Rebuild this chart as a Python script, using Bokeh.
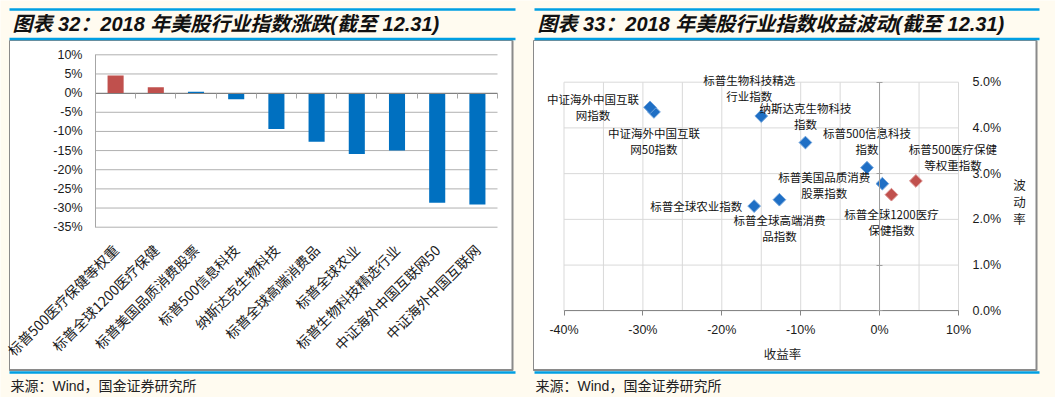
import math
from bokeh.plotting import figure
from bokeh.models import Range1d, LinearAxis, FixedTicker, PrintfTickFormatter, ColumnDataSource, Grid
from bokeh.core.properties import value
from bokeh.embed import file_html
from bokeh.resources import INLINE

# ---------------- data ----------------
BAR_CATEGORIES = ["标普500医疗保健等权重", "标普全球1200医疗保健", "标普美国品质消费股票",
                  "标普500信息科技", "纳斯达克生物科技", "标普全球高端消费品", "标普全球农业",
                  "标普生物科技精选行业", "中证海外中国互联网50", "中证海外中国互联网"]
RETURNS = [4.6, 1.5, 0.35, -1.6, -9.4, -12.7, -15.9, -15.0, -28.6, -29.1]   # % (2018)
VOLATILITY = [2.84, 2.54, 2.78, 3.13, 3.68, 2.43, 2.29, 4.26, 4.35, 4.45]   # %
SCATTER_LABELS = ["标普500医疗保健\n等权重指数", "标普全球1200医疗\n保健指数", "标普美国品质消费\n股票指数",
                  "标普500信息科技\n指数", "纳斯达克生物科技\n指数", "标普全球高端消费\n品指数",
                  "标普全球农业指数", "标普生物科技精选\n行业指数", "中证海外中国互联\n网50指数",
                  "中证海外中国互联\n网指数"]
BAR_Y_TICKS = [10, 5, 0, -5, -10, -15, -20, -25, -30, -35]
SCATTER_X_TICKS = [-40, -30, -20, -10, 0, 10]
SCATTER_X_GRID = [-40, -35, -30, -25, -20, -15, -10, -5, 0, 5, 10]
SCATTER_Y_TICKS = [0, 1, 2, 3, 4, 5]
TITLE_LEFT = "图表 32：2018 年美股行业指数涨跌(截至 12.31)"
TITLE_RIGHT = "图表 33：2018 年美股行业指数收益波动(截至 12.31)"
SOURCE = "来源：Wind，国金证券研究所"
X_TITLE = "收益率"
Y_TITLE = "波\n动\n率"

# ---------------- styles ----------------
CREAM = "#FFFBF0"
BLUE_LINE = "#009FE3"
RED = "#C0504D"
BLUE = "#0070C0"
DIAMOND_BLUE = "#1F6FC5"
BOX_LINE = "#8a8a8a"
SANS = "Liberation Sans, Noto Sans CJK SC"
CJK = "Noto Sans CJK SC"
# label offsets (screen px) for scatter labels
LABEL_DX = [37, 0, -58, 0, 0, 0, -58, -12, 0, -57]
LABEL_DY = [-24, 27, 1, -27, -27, 28, 0, -28, 29, 0]

W, H = 1055, 397
PX0, PX1, PY0, PY1 = 0, W, 0, H


def xr(p_a, v_a, p_b, v_b):
    k = (v_b - v_a) / (p_b - p_a)
    return Range1d(start=v_a + (PX0 - p_a) * k, end=v_a + (PX1 - p_a) * k)


def yr(p_a, v_a, p_b, v_b):
    k = (v_b - v_a) / (p_b - p_a)
    return Range1d(start=v_a + (PY1 - p_a) * k, end=v_a + (PY0 - p_a) * k)


p = figure(width=W, height=H, x_range=Range1d(PX0, PX1), y_range=Range1d(PY1, PY0),
           output_backend="svg", toolbar_location=None, x_axis_location=None, y_axis_location=None,
           min_border=0, background_fill_color=CREAM, border_fill_color=CREAM, outline_line_color=None)
for r in list(p.center):
    if isinstance(r, Grid):
        r.visible = False

n = len(BAR_CATEGORIES)
p.extra_x_ranges = {"bx": xr(95, -0.5, 497, n - 0.5), "sx": xr(563.5, -40, 958, 10)}
p.extra_y_ranges = {"by": yr(54.3, 10, 226.7, -35), "sy": yr(310.3, 0, 81.7, 5)}

# ---------------- decorations (page pixels) ----------------
p.quad(left=[9, 533], right=[512, 1036], top=[40, 40], bottom=[370, 370],
       fill_color="white", line_color=BOX_LINE, line_width=1)
p.segment(x0=[512, 1036, 9, 533], x1=[512, 1036, 512, 1036], y0=[40, 40, 369.5, 369.5],
          y1=[370, 370, 369.5, 369.5], line_color=BOX_LINE, line_width=2)
p.segment(x0=[9, 9, 9, 534, 534, 534], x1=[515, 515, 515, 1039, 1039, 1039],
          y0=[9, 38.5, 372, 9, 38.5, 372], y1=[9, 38.5, 372, 9, 38.5, 372],
          line_color=BLUE_LINE, line_width=2.5)
p.text(x=[12, 537], y=[23, 23], text=[TITLE_LEFT, TITLE_RIGHT], text_font=value(SANS),
       text_font_size="20px", text_font_style="bold italic", text_color="#111111",
       text_baseline="middle", text_align="left")
p.text(x=[10, 535], y=[385, 385], text=[SOURCE, SOURCE], text_font=value(SANS),
       text_font_size="14px", text_color="#222222", text_baseline="middle", text_align="left")
p.text(x=[782], y=[353], text=[X_TITLE], text_font=value(CJK), text_font_size="12.5px",
       text_color="#222222", text_baseline="middle", text_align="center")
p.text(x=[1019], y=[201], text=[Y_TITLE], text_font=value(CJK), text_font_size="12.5px",
       text_color="#222222", text_baseline="middle", text_align="center", text_line_height=0.9)

# ---------------- bar chart ----------------
idx = list(range(n))
p.segment(x0=-0.5, x1=n - 0.5, y0=BAR_Y_TICKS, y1=BAR_Y_TICKS, x_range_name="bx", y_range_name="by",
          line_color="#b0b0b0", line_width=1)
bar_colors = [RED if "医疗" in c else BLUE for c in BAR_CATEGORIES]
p.vbar(x=idx, top=RETURNS, bottom=0, width=0.4, fill_color=bar_colors, line_color=None,
       x_range_name="bx", y_range_name="by")

ay = LinearAxis(x_range_name="bx", y_range_name="by", fixed_location=-0.5,
                bounds=(min(BAR_Y_TICKS), max(BAR_Y_TICKS)), ticker=FixedTicker(ticks=BAR_Y_TICKS),
                formatter=PrintfTickFormatter(format="%d%%"), major_tick_in=0, major_tick_out=0,
                minor_tick_line_color=None, axis_line_color="#a6a6a6", major_label_standoff=13,
                major_label_text_font=SANS, major_label_text_font_size="12.5px",
                major_label_text_color="#1a1a1a")
p.add_layout(ay, "left")

bound_ticks = [i - 0.5 for i in range(n + 1)]
ax0 = LinearAxis(x_range_name="bx", y_range_name="by", fixed_location=0, bounds=(-0.5, n - 0.5),
                 ticker=FixedTicker(ticks=bound_ticks), major_tick_in=0, major_tick_out=5,
                 minor_tick_line_color=None, axis_line_color="#808080", major_tick_line_color="#a6a6a6",
                 major_label_overrides={t: "" for t in bound_ticks})
p.add_layout(ax0, "below")

axc = LinearAxis(x_range_name="bx", y_range_name="by", fixed_location=-35, bounds=(-0.5, n - 0.5),
                 ticker=FixedTicker(ticks=idx), major_label_overrides={i: c for i, c in enumerate(BAR_CATEGORIES)},
                 major_label_orientation=math.pi / 4, axis_line_color=None, major_tick_line_color=None,
                 minor_tick_line_color=None, major_label_standoff=14, major_label_text_font=CJK,
                 major_label_text_font_size="14px", major_label_text_color="#1a1a1a")
p.add_layout(axc, "below")

# ---------------- scatter chart ----------------
p.segment(x0=SCATTER_X_GRID, x1=SCATTER_X_GRID, y0=min(SCATTER_Y_TICKS), y1=max(SCATTER_Y_TICKS),
          x_range_name="sx", y_range_name="sy", line_color="#d9d9d9", line_width=1)
p.segment(x0=min(SCATTER_X_GRID), x1=max(SCATTER_X_GRID), y0=SCATTER_Y_TICKS, y1=SCATTER_Y_TICKS,
          x_range_name="sx", y_range_name="sy", line_color="#d9d9d9", line_width=1)

sx_axis = LinearAxis(x_range_name="sx", y_range_name="sy", fixed_location=0,
                     bounds=(min(SCATTER_X_TICKS), max(SCATTER_X_TICKS)), ticker=FixedTicker(ticks=SCATTER_X_TICKS),
                     formatter=PrintfTickFormatter(format="%d%%"), major_tick_in=0, major_tick_out=5,
                     minor_tick_line_color=None, axis_line_color="#868686", major_tick_line_color="#868686",
                     major_label_standoff=7, major_label_text_font=SANS, major_label_text_font_size="12.5px",
                     major_label_text_color="#1a1a1a")
p.add_layout(sx_axis, "below")

sy_axis = LinearAxis(x_range_name="sx", y_range_name="sy", fixed_location=0,
                     bounds=(min(SCATTER_Y_TICKS), max(SCATTER_Y_TICKS)), ticker=FixedTicker(ticks=SCATTER_Y_TICKS),
                     major_tick_in=3, major_tick_out=3, minor_tick_line_color=None,
                     axis_line_color="#a0a0a0", major_tick_line_color="#a0a0a0",
                     major_label_overrides={t: "" for t in SCATTER_Y_TICKS})
p.add_layout(sy_axis, "right")

sy_labels = LinearAxis(x_range_name="sx", y_range_name="sy", fixed_location=max(SCATTER_X_TICKS),
                       bounds=(min(SCATTER_Y_TICKS), max(SCATTER_Y_TICKS)), ticker=FixedTicker(ticks=SCATTER_Y_TICKS),
                       formatter=PrintfTickFormatter(format="%.1f%%"), major_tick_in=0, major_tick_out=0,
                       minor_tick_line_color=None, axis_line_color=None, major_label_standoff=14,
                       major_label_text_font=SANS, major_label_text_font_size="12.5px",
                       major_label_text_color="#1a1a1a")
p.add_layout(sy_labels, "right")

pt_colors = [RED if "医疗" in c else DIAMOND_BLUE for c in BAR_CATEGORIES]
pt_lines = ["#d98c8a" if "医疗" in c else "#6fa3dc" for c in BAR_CATEGORIES]
src = ColumnDataSource(dict(x=RETURNS, y=VOLATILITY, label=SCATTER_LABELS, dx=LABEL_DX, dy=LABEL_DY,
                            fc=pt_colors, lc=pt_lines))
p.scatter(x="x", y="y", source=src, marker="square", angle=math.pi / 4, size=9,
          fill_color="fc", line_color="lc", line_width=1, x_range_name="sx", y_range_name="sy")
p.text(x="x", y="y", text="label", x_offset="dx", y_offset="dy", source=src, x_range_name="sx",
       y_range_name="sy", text_font=value(CJK), text_font_size="11.5px", text_color="#111111",
       text_align="center", text_baseline="middle", text_line_height=1.0)

open("out.html", "w").write(file_html(p, INLINE))
